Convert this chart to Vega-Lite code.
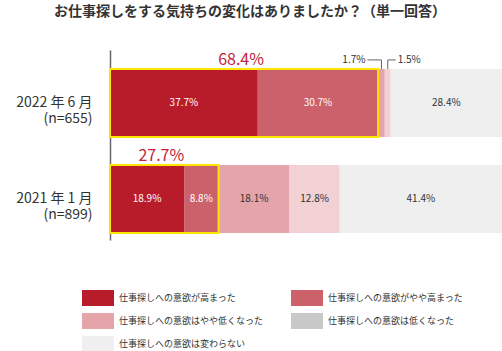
{
  "$schema": "https://vega.github.io/schema/vega-lite/v6.json",
  "width": 392,
  "height": 190,
  "autosize": {"type": "none"},
  "padding": {"left": 110, "top": 50, "right": 0, "bottom": 111},
  "background": "white",
  "config": {
    "view": {"stroke": null},
    "font": "Noto Sans CJK JP",
    "text": {"font": "Noto Sans CJK JP"}
  },
  "title": {
    "text": "お仕事探しをする気持ちの変化はありましたか？（単一回答）",
    "fontSize": 14,
    "fontWeight": "bold",
    "color": "#333333",
    "font": "Noto Sans CJK JP",
    "anchor": "middle",
    "frame": "group",
    "dx": -56,
    "offset": 31
  },
  "datasets": {
    "main": [
      {"period": "2022 年 6 月\n(n=655)", "category": "仕事探しへの意欲が高まった", "value": 37.7, "order": 1},
      {"period": "2022 年 6 月\n(n=655)", "category": "仕事探しへの意欲がやや高まった", "value": 30.7, "order": 2},
      {"period": "2022 年 6 月\n(n=655)", "category": "仕事探しへの意欲はやや低くなった", "value": 1.7, "order": 3},
      {"period": "2022 年 6 月\n(n=655)", "category": "仕事探しへの意欲は低くなった", "value": 1.5, "order": 4},
      {"period": "2022 年 6 月\n(n=655)", "category": "仕事探しへの意欲は変わらない", "value": 28.4, "order": 5},
      {"period": "2021 年 1 月\n(n=899)", "category": "仕事探しへの意欲が高まった", "value": 18.9, "order": 1},
      {"period": "2021 年 1 月\n(n=899)", "category": "仕事探しへの意欲がやや高まった", "value": 8.8, "order": 2},
      {"period": "2021 年 1 月\n(n=899)", "category": "仕事探しへの意欲はやや低くなった", "value": 18.1, "order": 3},
      {"period": "2021 年 1 月\n(n=899)", "category": "仕事探しへの意欲は低くなった", "value": 12.8, "order": 4},
      {"period": "2021 年 1 月\n(n=899)", "category": "仕事探しへの意欲は変わらない", "value": 41.4, "order": 5}
    ],
    "boxes": [
      {"period": "2022 年 6 月\n(n=655)", "total": 68.4},
      {"period": "2021 年 1 月\n(n=899)", "total": 27.7}
    ]
  },
  "data": {"name": "main"},
  "transform": [
    {"stack": "value", "groupby": ["period"], "sort": [{"field": "order"}], "as": ["x0", "x1"]},
    {"calculate": "(datum.x0 + datum.x1) / 2", "as": "mid"},
    {"calculate": "format(datum.value, '.1f') + '%'", "as": "lab"}
  ],
  "encoding": {
    "y": {
      "field": "period",
      "type": "nominal",
      "sort": ["2022 年 6 月\n(n=655)", "2021 年 1 月\n(n=899)"],
      "scale": {"paddingInner": 0.2917, "paddingOuter": 0.135, "align": 0.73},
      "axis": {
        "title": null,
        "domain": true,
        "domainColor": "#666666",
        "domainWidth": 1.5,
        "ticks": false,
        "labelExpr": "split(datum.label, '\\n')",
        "labelFontSize": 14,
        "labelColor": "#333333",
        "labelPadding": 18,
        "labelLineHeight": 16,
        "labelFont": "Noto Sans CJK JP",
        "labelLimit": 200
      }
    }
  },
  "layer": [
    {
      "mark": {"type": "bar"},
      "encoding": {
        "x": {"field": "x0", "type": "quantitative", "scale": {"domain": [0, 100], "nice": false}, "axis": null},
        "x2": {"field": "x1"},
        "color": {
          "field": "category",
          "type": "nominal",
          "scale": {
            "domain": ["仕事探しへの意欲が高まった", "仕事探しへの意欲がやや高まった", "仕事探しへの意欲はやや低くなった", "仕事探しへの意欲は低くなった", "仕事探しへの意欲は変わらない"],
            "range": ["#b81c2b", "#cc606b", "#e4a4aa", "#f1d1d4", "#eeefee"]
          },
          "legend": null
        }
      }
    },
    {
      "transform": [{"filter": "datum.value >= 5"}],
      "mark": {"type": "text", "fontSize": 10, "baseline": "middle", "align": "center"},
      "encoding": {
        "x": {"field": "mid", "type": "quantitative"},
        "text": {"field": "lab"},
        "color": {
          "condition": {"test": "datum.order <= 2", "value": "#ffffff"},
          "value": "#333333"
        }
      }
    },
    {
      "transform": [{"filter": "datum.value < 5 && datum.order == 3"}],
      "mark": {"type": "text", "fontSize": 10, "baseline": "middle", "align": "right", "dx": -16, "dy": -9, "color": "#333333"},
      "encoding": {
        "x": {"field": "mid", "type": "quantitative"},
        "y": {"field": "period", "type": "nominal", "bandPosition": 0, "sort": ["2022 年 6 月\n(n=655)", "2021 年 1 月\n(n=899)"]},
        "text": {"field": "lab"}
      }
    },
    {
      "transform": [{"filter": "datum.value < 5 && datum.order == 4"}],
      "mark": {"type": "text", "fontSize": 10, "baseline": "middle", "align": "left", "dx": 10, "dy": -9, "color": "#333333"},
      "encoding": {
        "x": {"field": "mid", "type": "quantitative"},
        "y": {"field": "period", "type": "nominal", "bandPosition": 0, "sort": ["2022 年 6 月\n(n=655)", "2021 年 1 月\n(n=899)"]},
        "text": {"field": "lab"}
      }
    },
    {
      "transform": [{"filter": "datum.value < 5"}],
      "mark": {"type": "rule", "color": "#666666", "strokeWidth": 1, "yOffset": -9, "y2Offset": 0},
      "encoding": {
        "x": {"field": "mid", "type": "quantitative"},
        "y": {"field": "period", "type": "nominal", "bandPosition": 0, "sort": ["2022 年 6 月\n(n=655)", "2021 年 1 月\n(n=899)"]},
        "y2": {"field": "period", "bandPosition": 0}
      }
    },
    {
      "transform": [{"filter": "datum.value < 5 && datum.order == 3"}],
      "mark": {"type": "rule", "color": "#666666", "strokeWidth": 1, "yOffset": -9, "xOffset": -14},
      "encoding": {
        "x": {"field": "mid", "type": "quantitative"},
        "x2": {"field": "mid"},
        "y": {"field": "period", "type": "nominal", "bandPosition": 0, "sort": ["2022 年 6 月\n(n=655)", "2021 年 1 月\n(n=899)"]}
      }
    },
    {
      "transform": [{"filter": "datum.value < 5 && datum.order == 4"}],
      "mark": {"type": "rule", "color": "#666666", "strokeWidth": 1, "yOffset": -9, "x2Offset": 8},
      "encoding": {
        "x": {"field": "mid", "type": "quantitative"},
        "x2": {"field": "mid"},
        "y": {"field": "period", "type": "nominal", "bandPosition": 0, "sort": ["2022 年 6 月\n(n=655)", "2021 年 1 月\n(n=899)"]}
      }
    },
    {
      "data": {"name": "boxes"},
      "transform": [],
      "mark": {"type": "bar", "fill": null, "fillOpacity": 0, "stroke": "#ffe600", "strokeWidth": 2},
      "encoding": {
        "x": {"field": "total", "type": "quantitative", "stack": null}
      }
    },
    {
      "data": {"name": "boxes"},
      "transform": [
        {"calculate": "datum.total / 2", "as": "half"},
        {"calculate": "format(datum.total, '.1f') + '%'", "as": "lab"}
      ],
      "mark": {"type": "text", "fontSize": 16, "fontWeight": "normal", "color": "#c4243a", "baseline": "middle", "align": "center", "dy": -43, "dx": -3},
      "encoding": {
        "x": {"field": "half", "type": "quantitative"},
        "text": {"field": "lab"}
      }
    },
    {
      "mark": {"type": "bar", "opacity": 0},
      "encoding": {
        "x": {"field": "x0", "type": "quantitative"},
        "x2": {"field": "x1"},
        "color": {
          "field": "category",
          "type": "nominal",
          "scale": {
            "domain": ["仕事探しへの意欲が高まった", "仕事探しへの意欲がやや高まった", "仕事探しへの意欲はやや低くなった", "仕事探しへの意欲は低くなった", "仕事探しへの意欲は変わらない"],
            "range": ["#b81c2b", "#cc606b", "#e4a4aa", "#c8c8c8", "#eeefee"]
          },
          "legend": {
            "orient": "none",
            "legendX": -20,
            "legendY": 240,
            "direction": "horizontal",
            "columns": 2,
            "columnPadding": 27,
            "rowPadding": 7,
            "title": null,
            "symbolType": "M-2,-1H2V1H-2Z",
            "symbolSize": 256,
            "symbolStrokeWidth": 0,
            "symbolOpacity": 1,
            "labelFontSize": 9,
            "labelColor": "#333333",
            "labelFont": "Noto Sans CJK JP",
            "labelOffset": 13,
            "labelLimit": 300
          }
        }
      }
    }
  ],
  "resolve": {"scale": {"color": "independent"}}
}
